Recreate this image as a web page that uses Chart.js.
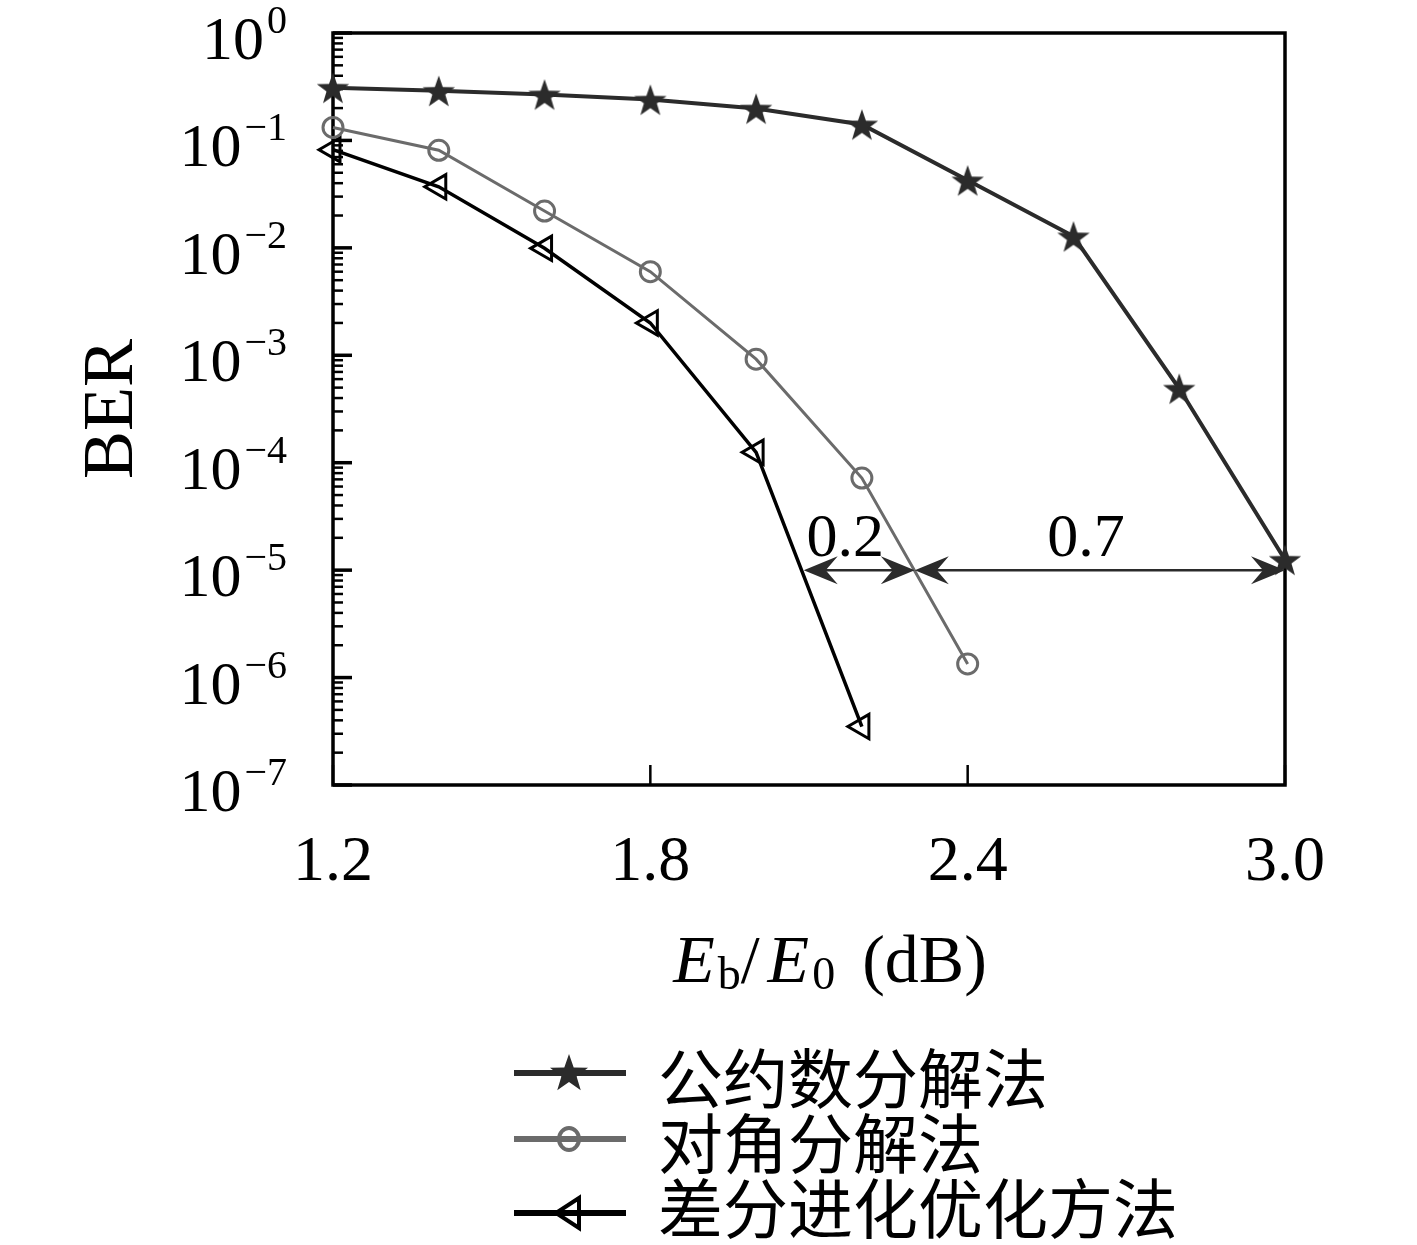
<!DOCTYPE html>
<html>
<head>
<meta charset="utf-8">
<script src="https://cdn.jsdelivr.net/npm/chart.js@4/dist/chart.umd.min.js"></script>
<style>
  body { margin: 0; background: #fff; }
  #wrap { width: 1417px; height: 1245px; }
</style>
</head>
<body>
<div id="wrap"><canvas id="berChart" width="1417" height="1245"></canvas></div>
<script>
// data
const ebn0 = [1.2, 1.4, 1.6, 1.8, 2.0, 2.2, 2.4, 2.6, 2.8, 3.0];
const berGcd = [0.31, 0.29, 0.268, 0.24, 0.198, 0.141, 0.0425, 0.0128, 4.9e-4, 1.25e-5];
const berDiag = [0.132, 0.081, 0.022, 6.0e-3, 9.2e-4, 7.2e-5, 1.34e-6];
const berDe = [0.082, 0.037, 9.9e-3, 2.0e-3, 1.25e-4, 3.5e-7];
const seriesNames = ["公约数分解法", "对角分解法", "差分进化优化方法"];
const xTicks = [1.2, 1.8, 2.4, 3.0];
const yExponents = [0, -1, -2, -3, -4, -5, -6, -7];
// gap annotation at BER = 1e-5
const gapY = 1e-5;
const gapX = [2.09, 2.3, 3.0];
const gapLabels = ["0.2", "0.7"];

const SERIF = '"Liberation Serif", "DejaVu Serif", serif';
const CJK = '"Noto Sans CJK SC", sans-serif';

function toPoints(ys) {
    return ys.map((v, i) => ({ x: ebn0[i], y: v }));
}

function makeStar(size, color) {
    const c = document.createElement("canvas");
    c.width = c.height = size;
    const g = c.getContext("2d");
    const R = size / 2, r = R * 0.4;
    g.beginPath();
    for (let i = 0; i < 10; i++) {
        const rad = i % 2 ? r : R;
        const ang = -Math.PI / 2 + i * Math.PI / 5;
        g.lineTo(R + rad * Math.cos(ang), R + rad * Math.sin(ang) + size * 0.05);
    }
    g.closePath();
    g.fillStyle = color;
    g.fill();
    return c;
}

const starImg = makeStar(34, "#2b2b2b");
const starLegend = makeStar(40, "#2b2b2b");

const datasets = [
    {
        label: seriesNames[0],
        data: toPoints(berGcd),
        borderColor: "#2b2b2b",
        borderWidth: 4,
        pointStyle: starImg,
        pointRadius: 17,
        clip: false,
    },
    {
        label: seriesNames[1],
        data: toPoints(berDiag),
        borderColor: "#6b6b6b",
        borderWidth: 3,
        pointStyle: "circle",
        pointRadius: 10,
        pointBorderWidth: 3,
        pointBackgroundColor: "rgba(0,0,0,0)",
        pointBorderColor: "#6b6b6b",
        clip: false,
    },
    {
        label: seriesNames[2],
        data: toPoints(berDe),
        borderColor: "#000",
        borderWidth: 3.5,
        pointStyle: "triangle",
        pointRotation: -90,
        pointRadius: 14,
        pointBorderWidth: 3,
        pointBackgroundColor: "rgba(0,0,0,0)",
        pointBorderColor: "#000",
        clip: false,
    },
];

function arrowHead(ctx, tipX, tipY, dir) {
    const L = 34, W = 14, N = 22;
    ctx.beginPath();
    ctx.moveTo(tipX, tipY);
    ctx.lineTo(tipX - dir * L, tipY - W);
    ctx.lineTo(tipX - dir * N, tipY);
    ctx.lineTo(tipX - dir * L, tipY + W);
    ctx.closePath();
    ctx.fill();
}

function legendMarker(ctx, i, x, y) {
    if (i === 0) {
        ctx.drawImage(starLegend, x - 20, y - 21);
    } else if (i === 1) {
        ctx.strokeStyle = "#6b6b6b";
        ctx.lineWidth = 4;
        ctx.beginPath();
        ctx.ellipse(x, y, 10, 11, 0, 0, Math.PI * 2);
        ctx.stroke();
    } else {
        ctx.strokeStyle = "#000";
        ctx.lineWidth = 4;
        ctx.beginPath();
        ctx.moveTo(x - 13, y);
        ctx.lineTo(x + 10, y - 15);
        ctx.lineTo(x + 10, y + 15);
        ctx.closePath();
        ctx.stroke();
    }
}

const framePlugin = {
    id: "frame",
    beforeDatasetsDraw(chart) {
        const { ctx, chartArea: a, scales: { x, y } } = chart;
        ctx.save();
        ctx.strokeStyle = "#000";
        // inward ticks on the left axis
        yExponents.forEach((e) => {
            const py = y.getPixelForValue(Math.pow(10, e));
            ctx.lineWidth = 3.5;
            ctx.beginPath();
            ctx.moveTo(a.left, py);
            ctx.lineTo(a.left + 19, py);
            ctx.stroke();
            if (e > yExponents[yExponents.length - 1]) {
                ctx.lineWidth = 2.5;
                for (let m = 2; m <= 9; m++) {
                    const pm = y.getPixelForValue(m * Math.pow(10, e - 1));
                    ctx.beginPath();
                    ctx.moveTo(a.left, pm);
                    ctx.lineTo(a.left + 10, pm);
                    ctx.stroke();
                }
            }
        });
        // inward ticks on the bottom axis
        ctx.lineWidth = 2.5;
        xTicks.forEach((t) => {
            const px = x.getPixelForValue(t);
            ctx.beginPath();
            ctx.moveTo(px, a.bottom);
            ctx.lineTo(px, a.bottom - 20);
            ctx.stroke();
        });
        ctx.lineWidth = 3.5;
        ctx.strokeRect(a.left, a.top, a.right - a.left, a.bottom - a.top);
        ctx.restore();
    },
    afterDraw(chart) {
        const { ctx, scales: { x, y } } = chart;
        ctx.save();
        ctx.fillStyle = "#000";

        // y tick labels 10^n
        yExponents.forEach((e) => {
            const py = y.getPixelForValue(Math.pow(10, e));
            const exp = e === 0 ? "0" : "\u2212" + (-e);
            ctx.font = "62px " + SERIF;
            const wBase = ctx.measureText("10").width;
            ctx.font = "40px " + SERIF;
            const wExp = ctx.measureText(exp).width;
            const right = 287;
            const x0 = right - wExp - 3 - wBase;
            ctx.textAlign = "left";
            ctx.textBaseline = "alphabetic";
            ctx.font = "62px " + SERIF;
            ctx.fillText("10", x0, py + 26);
            ctx.font = "40px " + SERIF;
            ctx.fillText(exp, x0 + wBase + 3, py);
        });

        // x axis title  E_b / E_0 (dB)
        const parts = [
            { t: "E", f: "italic 68px " + SERIF, dy: 0, gap: 3 },
            { t: "b", f: "46px " + SERIF, dy: 7, gap: 0 },
            { t: "/", f: "68px " + SERIF, dy: 0, gap: 8 },
            { t: "E", f: "italic 68px " + SERIF, dy: 0, gap: 3 },
            { t: "0", f: "46px " + SERIF, dy: 7, gap: 10 },
            { t: " (dB)", f: "68px " + SERIF, dy: 0, gap: 0 },
        ];
        let total = 0;
        parts.forEach((p) => { ctx.font = p.f; p.w = ctx.measureText(p.t).width; total += p.w + p.gap; });
        let cx = 830 - total / 2;
        const base = 982;
        parts.forEach((p) => {
            ctx.font = p.f;
            ctx.fillText(p.t, cx, base + p.dy);
            cx += p.w + p.gap;
        });

        // gap arrows at BER = 1e-5
        const gy = y.getPixelForValue(gapY);
        ctx.lineWidth = 2.5;
        for (let i = 0; i < gapX.length - 1; i++) {
            const x1 = x.getPixelForValue(gapX[i]);
            const x2 = x.getPixelForValue(gapX[i + 1]);
            ctx.strokeStyle = "#2b2b2b";
            ctx.fillStyle = "#2b2b2b";
            ctx.beginPath();
            ctx.moveTo(x1 + 10, gy);
            ctx.lineTo(x2 - 10, gy);
            ctx.stroke();
            arrowHead(ctx, x1, gy, -1);
            arrowHead(ctx, x2, gy, 1);
            ctx.fillStyle = "#000";
            ctx.font = "62px " + SERIF;
            ctx.textAlign = "center";
            ctx.fillText(gapLabels[i], (x1 + x2) / 2 - 14, gy - 14);
        }

        // legend below the plot
        const lineRows = [1073, 1139, 1213];
        const textRows = [1078, 1143, 1208];
        chart.data.datasets.forEach((ds, i) => {
            const ly = lineRows[i];
            ctx.strokeStyle = ds.borderColor;
            ctx.lineWidth = 6;
            ctx.beginPath();
            ctx.moveTo(514, ly);
            ctx.lineTo(626, ly);
            ctx.stroke();
            legendMarker(ctx, i, 569, ly);
            ctx.fillStyle = "#000";
            ctx.font = "65px " + CJK;
            ctx.textAlign = "left";
            ctx.textBaseline = "middle";
            ctx.fillText(ds.label, 658, textRows[i]);
            ctx.textBaseline = "alphabetic";
        });
        ctx.restore();
    },
};

const ctx = document.getElementById("berChart").getContext("2d");
new Chart(ctx, {
    type: "line",
    data: { datasets },
    options: {
        responsive: false,
        animation: false,
        layout: { padding: { top: 33, right: 132, bottom: 0, left: 0 } },
        plugins: { legend: { display: false }, tooltip: { enabled: false } },
        scales: {
            x: {
                type: "linear",
                min: 1.2,
                max: 3.0,
                afterFit: (s) => { s.height = 460; },
                afterBuildTicks: (s) => { s.ticks = xTicks.map((v) => ({ value: v })); },
                grid: { display: false, drawTicks: false },
                border: { display: false },
                ticks: {
                    autoSkip: false,
                    maxRotation: 0,
                    padding: 40,
                    color: "#000",
                    font: { family: SERIF, size: 64 },
                    callback: (v) => Number(v).toFixed(1),
                },
            },
            y: {
                type: "logarithmic",
                min: 1e-7,
                max: 1,
                afterFit: (s) => { s.width = 333; },
                grid: { display: false, drawTicks: false },
                border: { display: false },
                ticks: { display: false },
                title: {
                    display: true,
                    text: "BER",
                    color: "#000",
                    font: { family: SERIF, size: 72 },
                    padding: { top: 70, bottom: 0 },
                },
            },
        },
    },
    plugins: [framePlugin],
});
</script>
</body>
</html>
